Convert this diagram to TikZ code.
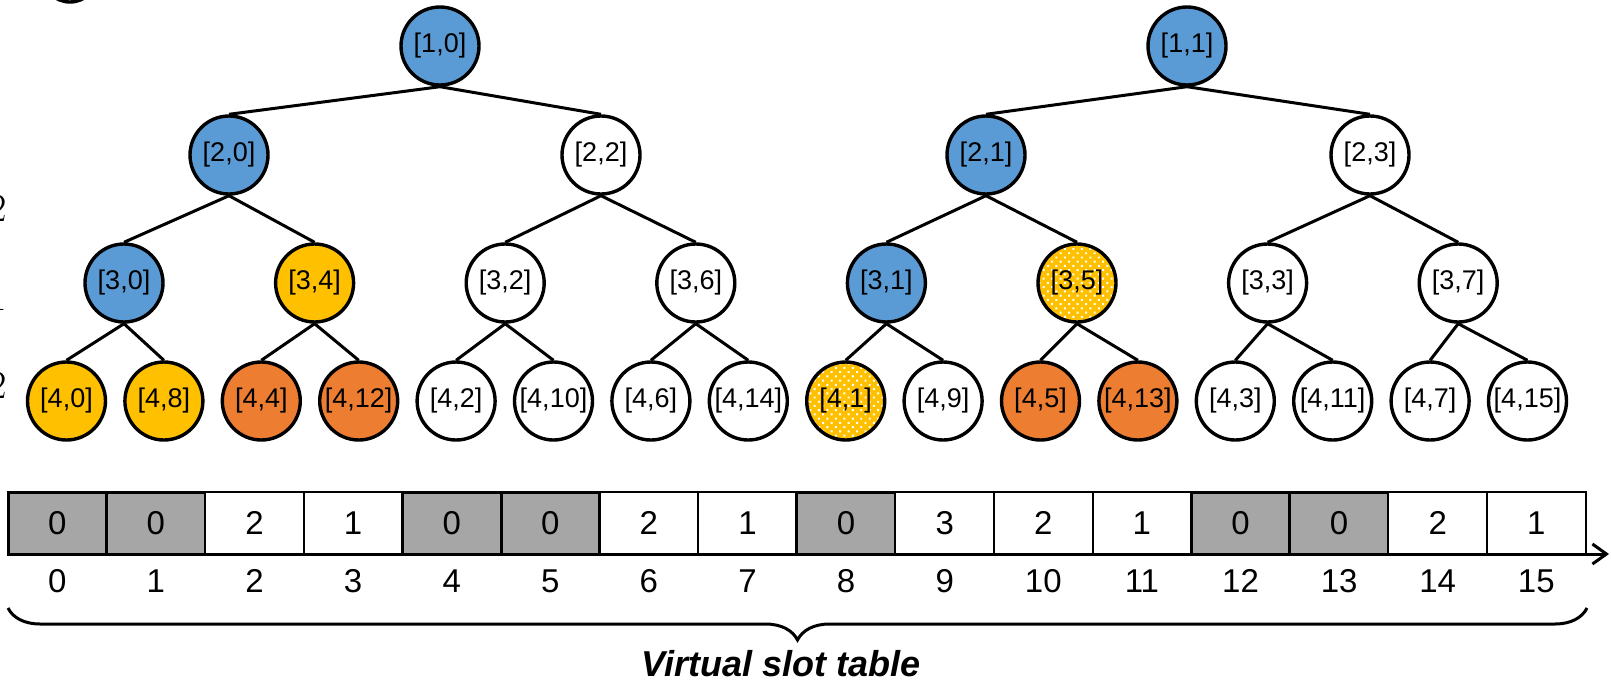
\documentclass[tikz,border=0pt]{standalone}
\usepackage{fontspec}
\newfontfamily\arialfont{Liberation Sans}
\usetikzlibrary{arrows.meta,decorations.pathreplacing,patterns.meta}
\definecolor{nodeblue}{HTML}{5B9BD5}
\definecolor{nodeyellow}{HTML}{FFC000}
\definecolor{nodeorange}{HTML}{ED7D31}
\definecolor{slotgray}{HTML}{A6A6A6}

\begin{document}
\begin{tikzpicture}[x=0.5pt,y=-0.5pt,line width=1.5pt]
    \tikzstyle{vertex}=[circle,draw=black,fill=white,line width=1.7pt,minimum size=39pt,inner sep=0pt,font=\arialfont\fontsize{13.5}{15}\selectfont]
    \tikzstyle{vblue}=[vertex,fill=nodeblue]
    \tikzstyle{vyellow}=[vertex,fill=nodeyellow]
    \tikzstyle{vorange}=[vertex,fill=nodeorange]
    \tikzstyle{vdotted}=[vertex,preaction={fill=nodeyellow},pattern={Dots[radius=0.7pt,distance=3pt,angle=45]},pattern color=white]
    \tikzstyle{slot}=[draw=black,fill=white,line width=1pt,minimum width=49.3pt,minimum height=31pt,inner sep=0pt,font=\arialfont\fontsize{16.5}{18}\selectfont]
    \tikzstyle{slotbusy}=[slot,fill=slotgray,line width=1.5pt]
    \tikzstyle{slotnum}=[inner sep=0pt,font=\arialfont\fontsize{16.5}{18}\selectfont]

    \useasboundingbox (0,0) rectangle (1611,686);
    \clip (0,0) rectangle (1611,686);

    % cut-off bits at the left border
    \draw[line width=1.7pt] (70,-26) circle[radius=14pt];
    \foreach \txt/\y in {2/208, 1/297, 2/385}
        \node[anchor=east,inner sep=0pt,font=\fontsize{20}{22}\selectfont] (cut-\y) at (8,\y) {\txt};

    % tree
    \foreach \lab/\x/\sty in {0/440/vblue, 1/1187/vblue}
        \node[\sty] (n-1-\lab) at (\x,46) {[1,\lab]};
    \foreach \lab/\x/\sty in {0/229/vblue, 2/601/vertex, 1/986/vblue, 3/1370/vertex}
        \node[\sty] (n-2-\lab) at (\x,155) {[2,\lab]};
    \foreach \lab/\i/\sty in {0/0/vblue, 4/1/vyellow, 2/2/vertex, 6/3/vertex, 1/4/vblue, 5/5/vdotted, 3/6/vertex, 7/7/vertex}
        \node[\sty] (n-3-\lab) at ({124+190.6*\i},283) {[3,\lab]};
    \foreach \lab/\i/\sty in {0/0/vyellow, 8/1/vyellow, 4/2/vorange, 12/3/vorange, 2/4/vertex, 10/5/vertex, 6/6/vertex, 14/7/vertex,
                             1/8/vdotted, 9/9/vertex, 5/10/vorange, 13/11/vorange, 3/12/vertex, 11/13/vertex, 7/14/vertex, 15/15/vertex}
        \node[\sty] (n-4-\lab) at ({66.5+97.4*\i},401) {[4,\lab]};

    \foreach \from/\to in {1-0/2-0, 1-0/2-2, 2-0/3-0, 2-0/3-4, 2-2/3-2, 2-2/3-6,
                           3-0/4-0, 3-0/4-8, 3-4/4-4, 3-4/4-12, 3-2/4-2, 3-2/4-10, 3-6/4-6, 3-6/4-14,
                           1-1/2-1, 1-1/2-3, 2-1/3-1, 2-1/3-5, 2-3/3-3, 2-3/3-7,
                           3-1/4-1, 3-1/4-9, 3-5/4-5, 3-5/4-13, 3-3/4-3, 3-3/4-11, 3-7/4-7, 3-7/4-15}
        \draw (n-\from.south) -- (n-\to.north);

    % virtual slot table
    \foreach \i/\v/\sty in {0/0/slotbusy, 1/0/slotbusy, 2/2/slot, 3/1/slot, 4/0/slotbusy, 5/0/slotbusy, 6/2/slot, 7/1/slot,
                           8/0/slotbusy, 9/3/slot, 10/2/slot, 11/1/slot, 12/0/slotbusy, 13/0/slotbusy, 14/2/slot, 15/1/slot}
    {
        \node[\sty] (s-\i) at ({57.3+98.6*\i},523) {\v};
        \node[slotnum] (idx-\i) at ({57.3+98.6*\i},581) {\i};
    }

    \coordinate (ax-l) at (8,554);
    \coordinate (ax-r) at (1609,554);
    \draw[-{Straight Barb[length=7pt,width=10pt]}] (ax-l) -- (ax-r);

    \coordinate (br-l) at (8,608);
    \coordinate (br-r) at (1587,608);
    \draw[decorate,decoration={brace,mirror,amplitude=16pt}] (br-l) -- (br-r);
    \node[font=\arialfont\bfseries\itshape\fontsize{18}{21}\selectfont] (caption) at (781,664) {Virtual slot table};
\end{tikzpicture}
\end{document}
